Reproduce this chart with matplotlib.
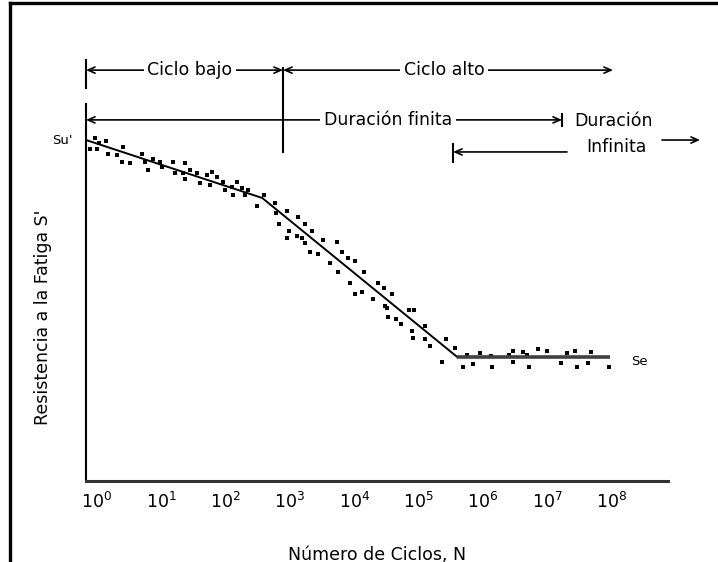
import numpy as np
import matplotlib
matplotlib.use("Agg")
import matplotlib.pyplot as plt
from matplotlib.lines import Line2D
from matplotlib.ticker import FixedLocator, NullLocator, FixedFormatter

# curva S-N idealizada (log10 N, resistencia relativa)
curve_logn = [-0.17, 2.57, 5.60, 7.98]
curve_s = [1.0, 0.83, 0.364, 0.364]

# puntos de ensayo
pts_logn = [
    -0.03, -0.11, 0.00, 0.03, 0.14, 0.17, 0.31, 0.40, 0.39, 0.51, 0.70, 0.79,
    0.87, 0.75, 0.98, 1.01, 1.18, 1.21, 1.37, 1.34, 1.37, 1.45, 1.56, 1.60,
    1.71, 1.79, 1.87, 1.76, 1.96, 1.99, 2.10, 2.18, 2.12, 2.26, 2.30, 2.35,
    2.49, 2.60, 2.77, 2.78, 2.95, 2.83, 3.13, 2.99, 3.23, 3.34, 2.95, 3.11,
    3.19, 3.23, 3.51, 3.31, 3.44, 3.73, 3.81, 3.62, 3.90, 4.01, 3.75, 4.15,
    3.93, 4.01, 4.12, 4.37, 4.46, 4.29, 4.59, 4.48, 4.51, 4.53, 4.65, 4.73,
    4.85, 4.93, 4.90, 4.91, 5.10, 5.10, 5.18, 5.43, 5.37, 5.57,
    5.69, 5.75, 5.85, 5.96, 6.13, 6.14, 6.41, 6.47, 6.47, 6.63, 6.69, 6.72,
    6.86, 7.00, 7.22, 7.31, 7.43, 7.47, 7.64, 7.68, 7.96,
]
pts_s = [
    1.006, 0.974, 0.974, 0.991, 0.997, 0.959, 0.956, 0.979, 0.935, 0.933, 0.959, 0.912,
    0.944, 0.935, 0.935, 0.921, 0.935, 0.903, 0.933, 0.903, 0.886, 0.912, 0.903, 0.874,
    0.897, 0.906, 0.891, 0.868, 0.877, 0.853, 0.862, 0.877, 0.839, 0.859, 0.839, 0.853,
    0.806, 0.839, 0.815, 0.786, 0.792, 0.754, 0.774, 0.733, 0.754, 0.733, 0.713, 0.718,
    0.713, 0.698, 0.707, 0.672, 0.666, 0.701, 0.672, 0.639, 0.654, 0.645, 0.613, 0.613,
    0.581, 0.548, 0.554, 0.581, 0.566, 0.534, 0.548, 0.513, 0.507, 0.481, 0.475, 0.460,
    0.501, 0.501, 0.440, 0.419, 0.455, 0.416, 0.396, 0.416, 0.350, 0.390,
    0.334, 0.370, 0.343, 0.375, 0.367, 0.334, 0.370, 0.381, 0.349, 0.378, 0.370, 0.334,
    0.387, 0.381, 0.346, 0.375, 0.381, 0.334, 0.346, 0.378, 0.334,
]

tick_exp = list(range(9))
tick_labels = [r"$10^{%d}$" % e for e in tick_exp]


def N(l):
    return 10 ** l


fig = plt.figure(figsize=(7.18, 5.62), dpi=100)
fig.patch.set_facecolor("white")
ax = fig.add_axes([86 / 718, 81 / 562, 582 / 718, 431 / 562])

ax.set_xscale("log")
ax.set_xlim(N(-0.171), N(8.88))
ax.set_ylim(0, 1.264)

# curva y puntos
cn = N(np.array(curve_logn))
ax.plot(cn[:3], curve_s[:3], color="black", lw=1.4)
ax.plot(cn[2:], curve_s[2:], color="#404040", lw=2.6, solid_capstyle="butt")
ax.scatter(N(np.array(pts_logn)), pts_s, s=6, marker="s", color="black", linewidths=0)

# ejes
for side in ("top", "right"):
    ax.spines[side].set_visible(False)
ax.spines["bottom"].set_linewidth(2.2)
ax.spines["bottom"].set_color("#333333")
ax.spines["left"].set_linewidth(1.5)
ax.spines["left"].set_bounds(0, 1.106)
ax.set_yticks([])
ax.xaxis.set_major_locator(FixedLocator([N(e) for e in tick_exp]))
ax.xaxis.set_major_formatter(FixedFormatter(tick_labels))
ax.xaxis.set_minor_locator(NullLocator())
ax.tick_params(axis="x", length=0, pad=8, labelsize=12.5)

ax.set_xlabel("Número de Ciclos, N", fontsize=12.5, labelpad=24)
ax.set_ylabel("Resistencia a la Fatiga S'", fontsize=12.5)
ax.yaxis.set_label_coords(-0.058, 0.38)

# lineas verticales de referencia
vkw = dict(color="black", lw=1.5, clip_on=False)
ax.plot([N(-0.171)] * 2, [1.152, 1.235], **vkw)
ax.plot([N(2.893)] * 2, [0.965, 1.211], **vkw)
ax.plot([N(5.537)] * 2, [0.935, 0.988], **vkw)
ax.plot([N(7.232)] * 2, [1.041, 1.076], **vkw)

akw = dict(arrowstyle="<->,head_length=0.5,head_width=0.22", lw=1.2,
           color="black", shrinkA=0, shrinkB=0)
tkw = dict(fontsize=12.5, ha="center", va="center",
           bbox=dict(fc="white", ec="none", pad=2.5), zorder=5)


def arrow(x0, x1, y, style=None):
    props = dict(akw)
    if style:
        props["arrowstyle"] = style
    ax.annotate("", xy=(N(x1), y), xytext=(N(x0), y),
                arrowprops=props, annotation_clip=False)


arrow(-0.171, 2.893, 1.205)
ax.text(N(1.446), 1.205, "Ciclo bajo", **tkw)
arrow(2.893, 8.025, 1.205)
ax.text(N(5.397), 1.205, "Ciclo alto", **tkw)

arrow(-0.171, 7.232, 1.059)
ax.text(N(4.526), 1.059, "Duración finita", **tkw)
ax.text(N(8.04), 1.056, "Duración", **tkw)

arrow(7.309, 5.537, 0.965, "->,head_length=0.5,head_width=0.22")
ax.text(N(8.072), 0.979, "Infinita", **tkw)
arrow(8.787, 9.378, 1.0, "->,head_length=0.5,head_width=0.22")

ax.text(N(-0.373), 1.0, "Su'", fontsize=9.5, ha="right", va="center")
ax.text(N(8.30), 0.349, "Se", fontsize=9.5, ha="left", va="center")

# marco de la figura
fig.add_artist(Line2D([10 / 718, 10 / 718], [0, 1 - 3 / 562],
                      transform=fig.transFigure, color="black", lw=2.4))
fig.add_artist(Line2D([10 / 718, 1], [1 - 3 / 562, 1 - 3 / 562],
                      transform=fig.transFigure, color="black", lw=2.4))

fig.savefig("out.png", dpi=100)
